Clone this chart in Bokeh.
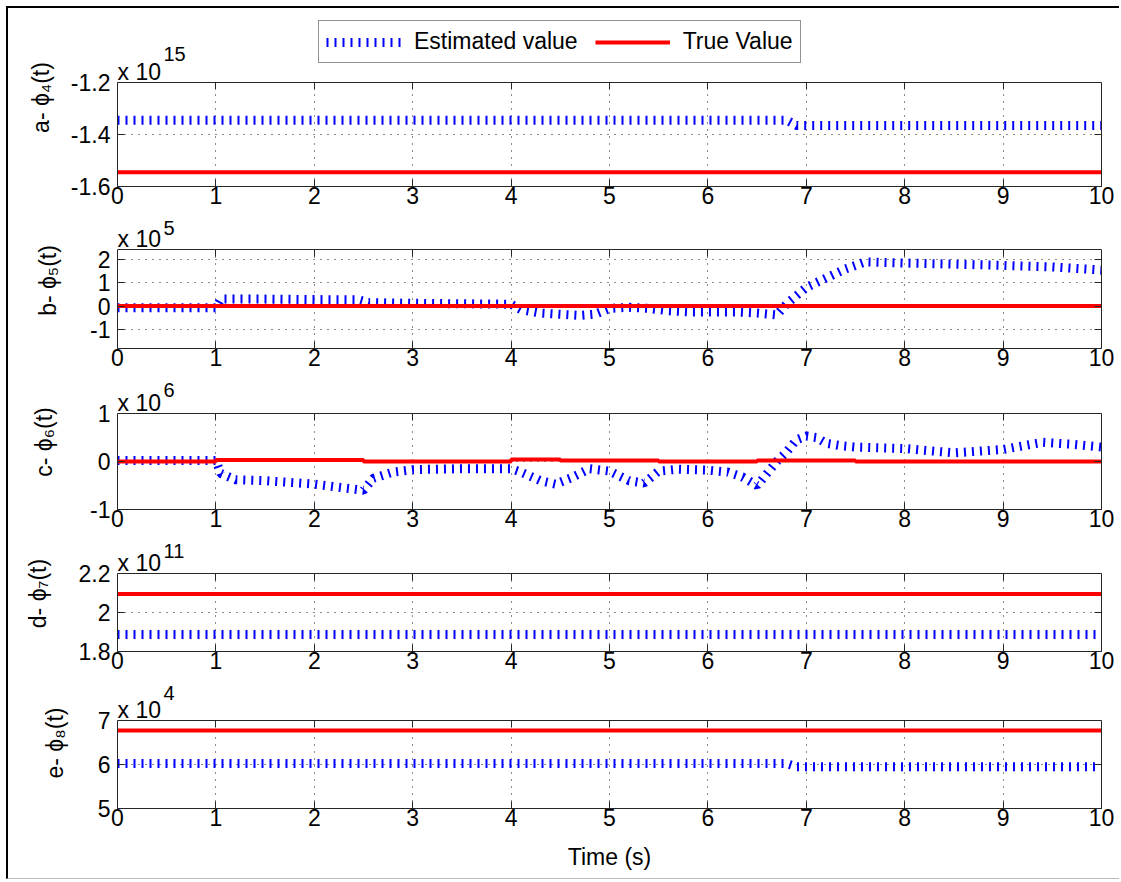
from bokeh.plotting import figure
from bokeh.layouts import column
from bokeh.models import (Range1d, FixedTicker, CustomJSTickFormatter, Label,
                          Legend, LegendItem, LinearAxis, Grid)
from bokeh.embed import file_html
from bokeh.resources import INLINE

FONT = "Liberation Sans"
BLUE = "#0000ff"
RED = "#ff0000"
INK = "#262626"
FRAME_W = 984
BORDER_L = 109
BORDER_R = 18

time_ticks = [0, 1, 2, 3, 4, 5, 6, 7, 8, 9, 10]
legend_labels = ["Estimated value", "True Value"]
x_label = "Time (s)"

# ---- a- phi4 (x 1e15)
a_t_est = [0.0, 6.8, 6.9, 10.0]
a_est = [-1.345e15, -1.345e15, -1.365e15, -1.365e15]
a_t_true = [0.0, 10.0]
a_true = [-1.545e15, -1.545e15]
a_yticks = [-1.6e15, -1.4e15, -1.2e15]

# ---- b- phi5 (x 1e5)
b_t_est = [0.0, 1.0, 1.05, 1.5, 2.0, 2.45, 2.55, 3.0, 3.5, 4.0, 4.1, 4.3, 4.5,
           4.7, 4.85, 5.0, 5.2, 5.4, 5.6, 5.8, 6.0, 6.3, 6.5, 6.7, 6.8, 7.0,
           7.2, 7.4, 7.6, 8.0, 8.5, 9.0, 9.5, 10.0]
b_est = [-0.07e5, -0.07e5, 0.3e5, 0.3e5, 0.28e5, 0.27e5, 0.15e5, 0.12e5,
         0.1e5, 0.08e5, -0.15e5, -0.3e5, -0.35e5, -0.4e5, -0.35e5, -0.1e5,
         -0.05e5, -0.1e5, -0.2e5, -0.25e5, -0.25e5, -0.25e5, -0.3e5, -0.38e5,
         0.1e5, 0.8e5, 1.2e5, 1.6e5, 1.9e5, 1.85e5, 1.8e5, 1.75e5, 1.68e5,
         1.55e5]
b_t_true = [0.0, 10.0]
b_true = [0.0, 0.0]
b_yticks = [-1e5, 0.0, 1e5, 2e5]

# ---- c- phi6 (x 1e6)
c_t_est = [0.0, 1.0, 1.05, 1.2, 1.5, 2.0, 2.3, 2.5, 2.6, 2.8, 3.0, 3.5, 4.0,
           4.1, 4.3, 4.45, 4.6, 4.8, 5.0, 5.2, 5.35, 5.5, 5.7, 6.0, 6.2, 6.35,
           6.5, 6.6, 6.7, 6.8, 6.9, 7.0, 7.1, 7.2, 7.35, 7.5, 8.0, 8.5, 9.0,
           9.4, 9.7, 10.0]
c_est = [0.02e6, 0.02e6, -0.25e6, -0.38e6, -0.4e6, -0.47e6, -0.55e6, -0.6e6,
         -0.35e6, -0.22e6, -0.17e6, -0.15e6, -0.15e6, -0.22e6, -0.4e6,
         -0.47e6, -0.35e6, -0.15e6, -0.2e6, -0.4e6, -0.45e6, -0.2e6, -0.16e6,
         -0.18e6, -0.22e6, -0.32e6, -0.5e6, -0.25e6, 0.0, 0.2e6, 0.45e6,
         0.53e6, 0.5e6, 0.38e6, 0.33e6, 0.3e6, 0.27e6, 0.18e6, 0.25e6, 0.4e6,
         0.36e6, 0.3e6]
c_t_true = [0.0, 1.0, 1.0, 2.5, 2.5, 4.0, 4.0, 4.5, 4.5, 5.5, 5.5, 6.5, 6.5,
            7.5, 7.5, 10.0]
c_true = [0.0, 0.0, 0.03e6, 0.03e6, 0.0, 0.0, 0.04e6, 0.04e6, 0.02e6, 0.02e6,
          0.0, 0.0, 0.02e6, 0.02e6, 0.0, 0.0]
c_yticks = [-1e6, 0.0, 1e6]

# ---- d- phi7 (x 1e11)
d_t_est = [0.0, 10.0]
d_est = [1.887e11, 1.887e11]
d_t_true = [0.0, 10.0]
d_true = [2.095e11, 2.095e11]
d_yticks = [1.8e11, 2.0e11, 2.2e11]

# ---- e- phi8 (x 1e4)
e_t_est = [0.0, 6.8, 6.9, 10.0]
e_est = [6.02e4, 6.02e4, 5.95e4, 5.95e4]
e_t_true = [0.0, 10.0]
e_true = [6.77e4, 6.77e4]
e_yticks = [5e4, 6e4, 7e4]


def panel(t_est, est, t_true, tru, y_lo, y_hi, y_ticks, scale, sup, sup_dy,
          ylabel, label_standoff, box_h, ext_h, bottom, xlabel=None):
    per_px = (y_hi - y_lo) / box_h
    y_top = y_hi + per_px * ext_h
    p = figure(output_backend="svg", toolbar_location=None,
               frame_width=FRAME_W, frame_height=box_h + ext_h,
               x_range=Range1d(0, 10), y_range=Range1d(y_lo, y_top),
               min_border_left=BORDER_L, min_border_right=BORDER_R,
               min_border_top=0, min_border_bottom=bottom)
    p.outline_line_color = None
    p.background_fill_color = "white"
    p.border_fill_color = "white"

    est_r = p.line(t_est, est, line_color=BLUE, line_width=9,
                   line_dash="2 6", line_cap="butt")
    true_r = p.line(t_true, tru, line_color=RED, line_width=4)

    fmt = CustomJSTickFormatter(args=dict(scale=scale), code="""
        const v = Math.round(tick / scale * 100) / 100;
        return (v === 0 ? 0 : v).toString();
    """)

    for ax in (p.xaxis[0], p.yaxis[0]):
        ax.major_label_text_font = FONT
        ax.major_label_text_font_size = "23px"
        ax.major_label_text_color = "black"
        ax.axis_line_color = INK
        ax.major_tick_line_color = INK
        ax.major_tick_in = 7
        ax.major_tick_out = 0
        ax.minor_tick_line_color = None
        ax.axis_label_text_font = FONT
        ax.axis_label_text_font_size = "23px"
        ax.axis_label_text_font_style = "normal"
        ax.axis_label_text_color = "black"
    p.xaxis[0].ticker = FixedTicker(ticks=time_ticks)
    p.xaxis[0].major_label_standoff = 0
    p.yaxis[0].ticker = FixedTicker(ticks=y_ticks)
    p.yaxis[0].bounds = (y_lo, y_hi)
    p.yaxis[0].formatter = fmt
    p.yaxis[0].major_label_standoff = 7
    p.yaxis[0].axis_label = ylabel
    p.yaxis[0].axis_label_standoff = label_standoff
    if xlabel:
        p.xaxis[0].axis_label = xlabel
        p.xaxis[0].axis_label_standoff = 15

    right = LinearAxis(ticker=FixedTicker(ticks=y_ticks), bounds=(y_lo, y_hi),
                       major_label_text_font_size="1px",
                       major_label_text_color=None, major_label_standoff=0,
                       major_tick_in=7, major_tick_out=0,
                       minor_tick_line_color=None, axis_line_color=INK,
                       major_tick_line_color=INK)
    p.add_layout(right, "right")

    # dotted grid, limited to the axes box
    p.xgrid[0].ticker = FixedTicker(ticks=time_ticks)
    p.xgrid[0].cross_bounds = (y_lo, y_hi)
    p.ygrid[0].ticker = FixedTicker(ticks=[t for t in y_ticks if y_lo < t < y_hi])
    for g in (p.xgrid[0], p.ygrid[0]):
        g.grid_line_color = "black"
        g.grid_line_dash = "1 6"
        g.grid_line_width = 1
        g.grid_line_alpha = 0.9
    # top edge of the box and the tick marks along it
    p.add_layout(Grid(dimension=1, ticker=FixedTicker(ticks=[y_hi]),
                      grid_line_color=INK, grid_line_width=1))
    p.add_layout(Grid(dimension=0, ticker=FixedTicker(ticks=time_ticks),
                      cross_bounds=(y_hi - 7 * per_px, y_hi),
                      grid_line_color=INK, grid_line_width=1))

    p.add_layout(Label(x=0, y=y_hi, x_offset=0, y_offset=11, text="x 10",
                       text_font=FONT, text_font_size="23px",
                       text_color="black", text_baseline="alphabetic"))
    p.add_layout(Label(x=0, y=y_hi, x_offset=46, y_offset=sup_dy, text=sup,
                       text_font=FONT, text_font_size="20px",
                       text_color="black", text_baseline="alphabetic"))
    return p, est_r, true_r


pa, ea, ta = panel(a_t_est, a_est, a_t_true, a_true, -1.6e15, -1.2e15,
                   a_yticks, 1e15, "15", 29, "a- \u03d5\u2084(t)", 14,
                   104, 74, 26)
legend = Legend(items=[LegendItem(label=legend_labels[0], renderers=[ea]),
                       LegendItem(label=legend_labels[1], renderers=[ta])],
                location=(201, 123), orientation="horizontal",
                glyph_width=75, glyph_height=24, label_height=24,
                label_standoff=13, spacing=17, padding=7, margin=0,
                label_text_font=FONT, label_text_font_size="23px",
                label_text_color="black",
                border_line_color=INK, border_line_width=1,
                background_fill_color="white", background_fill_alpha=1.0)
pa.add_layout(legend)

pb, _, _ = panel(b_t_est, b_est, b_t_true, b_true, -1.82e5, 2.43e5,
                 b_yticks, 1e5, "5", 22, "b- \u03d5\u2085(t)", 26,
                 99, 37, 26)
pc, _, _ = panel(c_t_est, c_est, c_t_true, c_true, -1e6, 1e6,
                 c_yticks, 1e6, "6", 24, "c- \u03d5\u2086(t)", 30,
                 96, 39, 26)
pd, _, _ = panel(d_t_est, d_est, d_t_true, d_true, 1.8e11, 2.2e11,
                 d_yticks, 1e11, "11", 23, "d- \u03d5\u2087(t)", 25,
                 78, 38, 26)
pe, _, _ = panel(e_t_est, e_est, e_t_true, e_true, 5e4, 7e4,
                 e_yticks, 1e4, "4", 28, "e- \u03d5\u2088(t)", 27,
                 88, 43, 70, xlabel=x_label)

layout = column(pa, pb, pc, pd, pe, spacing=0,
                styles={"margin-top": "6px", "margin-left": "6px",
                        "border-top": "2px solid black",
                        "border-left": "2px solid black",
                        "border-bottom": "1px solid #bbbbbb"})

open("out.html", "w").write(file_html(layout, INLINE))
